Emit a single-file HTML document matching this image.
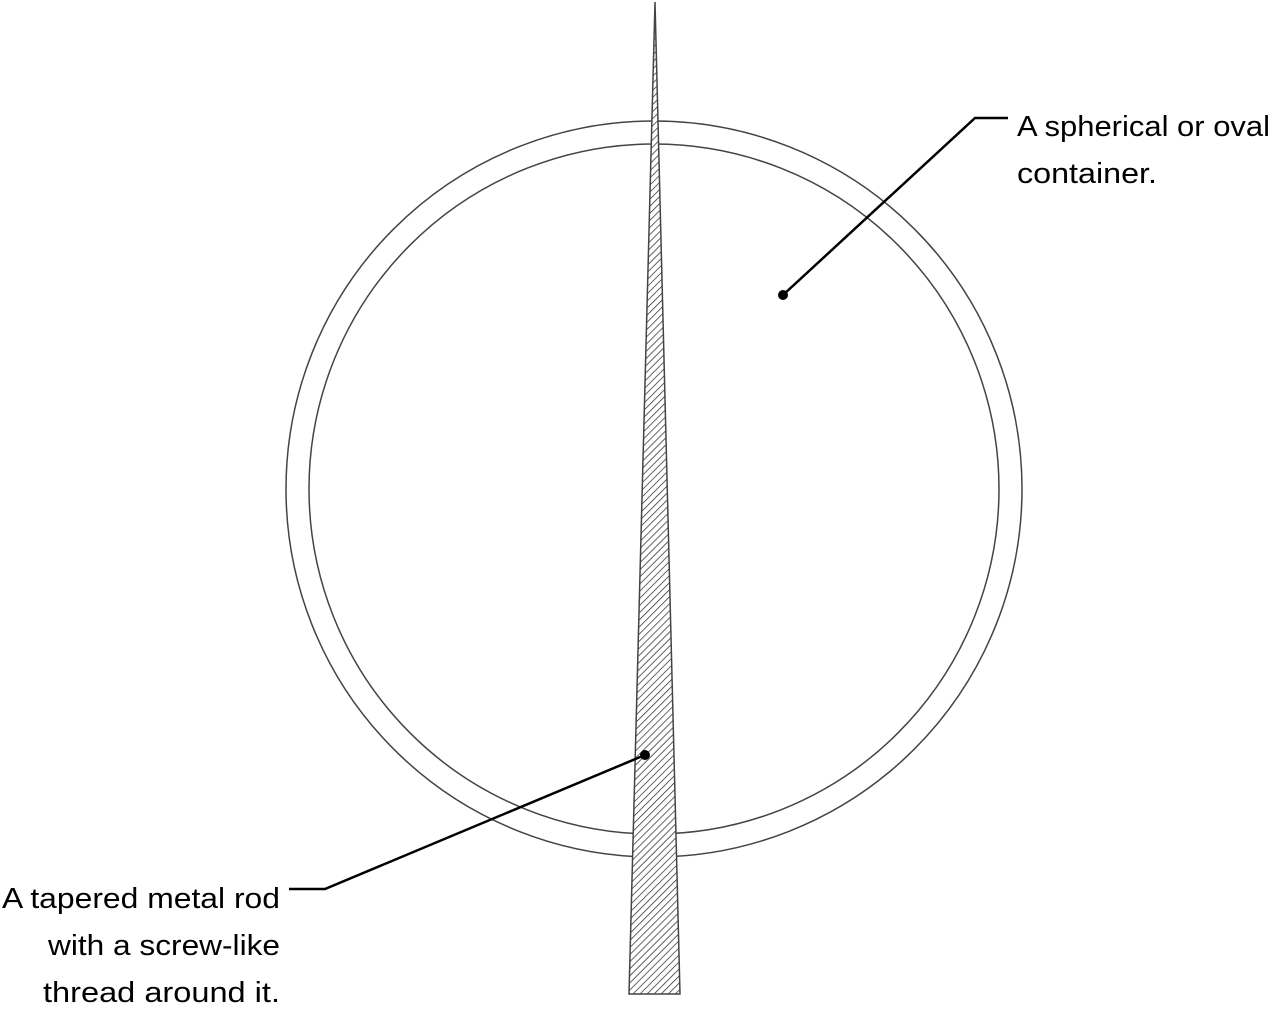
<!DOCTYPE html>
<html><head><meta charset="utf-8"><style>html,body{margin:0;padding:0;background:#fff}svg{display:block}</style></head>
<body>
<svg width="1280" height="1017" viewBox="0 0 1280 1017" xmlns="http://www.w3.org/2000/svg">
<defs>
<pattern id="h" patternUnits="userSpaceOnUse" width="5" height="5" patternTransform="rotate(45)">
<rect width="5" height="5" fill="#fff"/>
<line x1="0" y1="0" x2="0" y2="5" stroke="#222" stroke-width="1.4"/>
</pattern>
</defs>
<circle cx="654" cy="489" r="368" fill="none" stroke="#444" stroke-width="1.5"/>
<circle cx="654" cy="489" r="345" fill="none" stroke="#444" stroke-width="1.5"/>
<polygon points="655,2 680,994 629,994" fill="url(#h)" stroke="#444" stroke-width="1.5"/>
<polyline points="1008,118 975,118 783,295" fill="none" stroke="#000" stroke-width="2.5"/>
<circle cx="783" cy="295" r="5" fill="#000"/>
<polyline points="289,889 325,889 645,755" fill="none" stroke="#000" stroke-width="2.5"/>
<circle cx="645" cy="755" r="5" fill="#000"/>
<g font-family="Liberation Sans, sans-serif" font-size="29" fill="#000">
<text x="1017" y="136" textLength="253" lengthAdjust="spacingAndGlyphs">A spherical or oval</text>
<text x="1017" y="183" textLength="140" lengthAdjust="spacingAndGlyphs">container.</text>
<text x="2" y="908" textLength="278" lengthAdjust="spacingAndGlyphs">A tapered metal rod</text>
<text x="48" y="955" textLength="232" lengthAdjust="spacingAndGlyphs">with a screw-like</text>
<text x="43" y="1002" textLength="237" lengthAdjust="spacingAndGlyphs">thread around it.</text>
</g>
</svg>
</body></html>
